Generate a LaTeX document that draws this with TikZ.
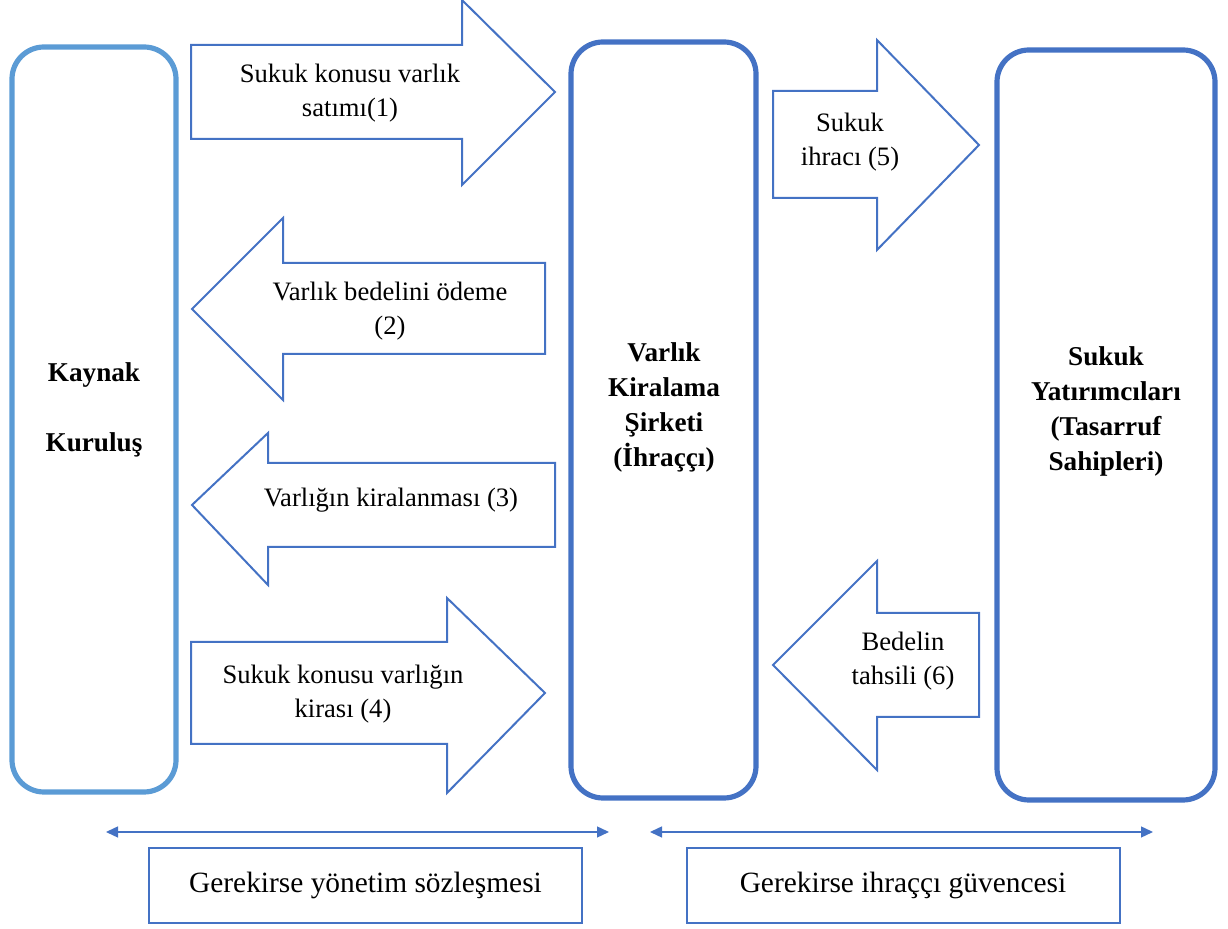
\documentclass[tikz,border=0pt]{standalone}
\usepackage{fontspec}
\setmainfont{Liberation Serif}
\usetikzlibrary{arrows.meta}
\definecolor{lightblue}{HTML}{5B9BD5}
\definecolor{darkblue}{HTML}{4472C4}
\tikzset{
  party/.style={line width=2.6pt,rounded corners=16pt},
  blockarrow/.style={draw=darkblue,line width=1pt,line join=miter},
  lbl/.style={align=center,font=\fontsize{13.3}{17}\selectfont},
  boxlbl/.style={align=center,font=\fontsize{13.6}{17.5}\selectfont\bfseries},
  notebox/.style={draw=darkblue,line width=1pt,minimum width=216.5pt,minimum height=37.5pt,font=\fontsize{14.7}{17}\selectfont},
  span/.style={darkblue,line width=0.7pt,{Triangle[length=6pt,width=5.5pt]}-{Triangle[length=6pt,width=5.5pt]}}
}
\begin{document}
\begin{tikzpicture}[x=0.5pt,y=-0.5pt]
\useasboundingbox (0,0) rectangle (1228,929);
% parties
\draw[party,lightblue] (12,47) rectangle (176,792);
\draw[party,darkblue] (571,42) rectangle (756,798);
\draw[party,darkblue] (997,50) rectangle (1215,800);
\node[boxlbl] (kaynak) at (94,410) {Kaynak\\[17.5pt]Kuruluş};
\node[boxlbl] (sirket) at (664,407) {Varlık\\Kiralama\\Şirketi\\(İhraççı)};
\node[boxlbl] (yatirimci) at (1106,411) {Sukuk\\Yatırımcıları\\(Tasarruf\\Sahipleri)};
% block arrows
\draw[blockarrow] (191,45) -- (462,45) -- (462,0) -- (555,92) -- (462,185) -- (462,139) -- (191,139) -- cycle;
\node[lbl] (satim) at (350,93) {Sukuk konusu varlık\\satımı(1)};
\draw[blockarrow] (545,263) -- (283,263) -- (283,218) -- (192,309) -- (283,400) -- (283,354) -- (545,354) -- cycle;
\node[lbl] (odeme) at (390,311) {Varlık bedelini ödeme\\(2)};
\draw[blockarrow] (555,463) -- (268,463) -- (268,433) -- (192,505) -- (268,585) -- (268,547) -- (555,547) -- cycle;
\node[lbl] (kiralama) at (391,500) {Varlığın kiralanması (3)};
\draw[blockarrow] (191,642) -- (447,642) -- (447,598) -- (545,693) -- (447,793) -- (447,744) -- (191,744) -- cycle;
\node[lbl] (kira) at (343,694) {Sukuk konusu varlığın\\kirası (4)};
\draw[blockarrow] (773,91) -- (877,91) -- (877,40) -- (979,145) -- (877,250) -- (877,198) -- (773,198) -- cycle;
\node[lbl] (ihrac) at (850,142) {Sukuk\\ihracı (5)};
\draw[blockarrow] (979,613) -- (877,613) -- (877,561) -- (773,665) -- (877,770) -- (877,717) -- (979,717) -- cycle;
\node[lbl] (tahsil) at (903,661) {Bedelin\\tahsili (6)};
% spans and notes
\coordinate (s1a) at (106,832);
\coordinate (s1b) at (609,832);
\coordinate (s2a) at (650,832);
\coordinate (s2b) at (1153,832);
\draw[span] (s1a) -- (s1b);
\draw[span] (s2a) -- (s2b);
\node[notebox] (yonetim) at (365.5,885.5) {Gerekirse yönetim sözleşmesi};
\node[notebox] (guvence) at (903,885.5) {Gerekirse ihraççı güvencesi};
\end{tikzpicture}
\end{document}
